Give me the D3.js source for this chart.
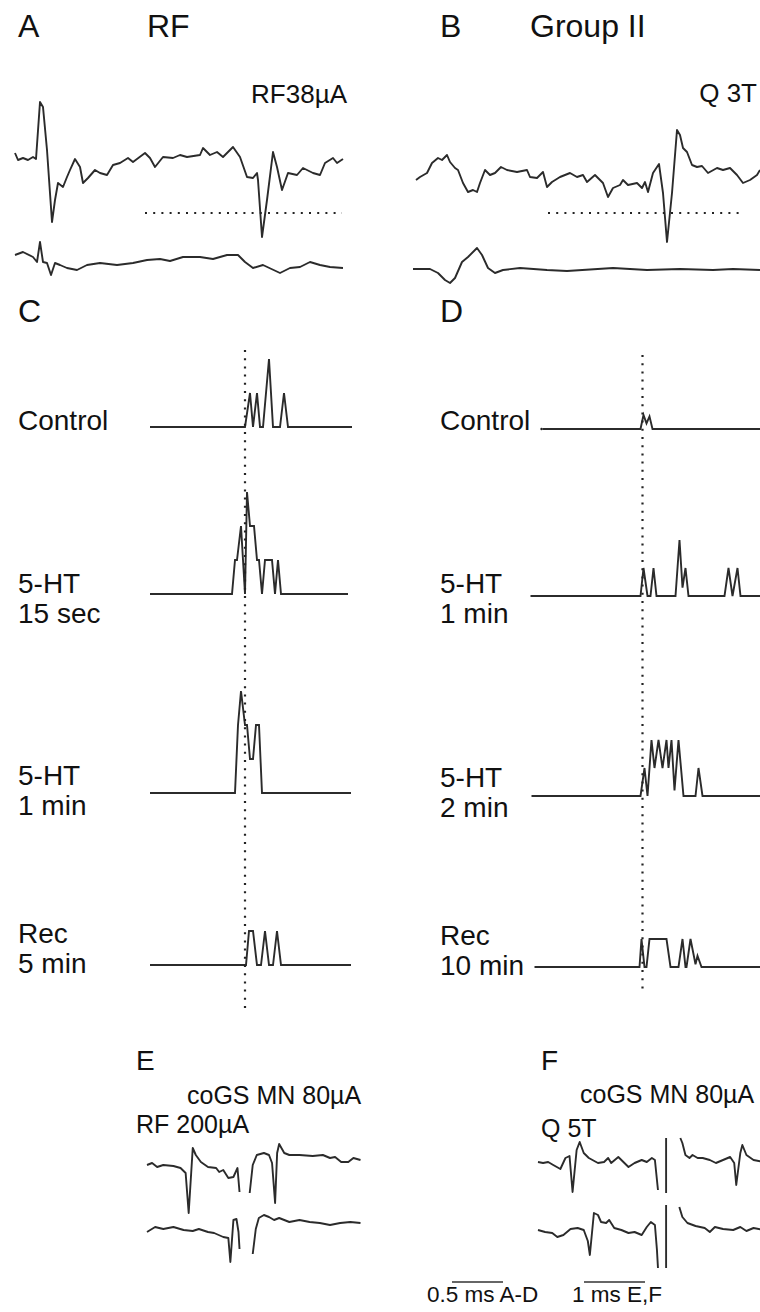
<!DOCTYPE html>
<html>
<head>
<meta charset="utf-8">
<script src="https://cdn.jsdelivr.net/npm/d3@7"></script>
<style>
  body { margin: 0; background: #fff; }
  svg { display: block; }
  text { font-family: "Liberation Sans", Arial, sans-serif; fill: #111; }
</style>
</head>
<body>
<svg></svg>
<script>
const WIDTH = 760;
const HEIGHT = 1312;

// ---- recordings: [sample, amplitude] (1 sample ~ 10 us in A-D) ----
const traceA1 = [[0,7],[3,0],[8,2],[13,0],[18,3],[21,1],[25,58],[28,53],[32,10],[37,-62],[40,-40],[43,-23],[48,-27],[52,-17],[55,-10],[60,1],[65,-7],[68,-23],[73,-18],[80,-10],[85,-13],[92,-15],[98,-5],[105,-3],[113,2],[118,-2],[130,7],[135,2],[140,-7],[148,3],[158,2],[165,5],[172,3],[185,5],[188,12],[195,5],[202,8],[208,3],[218,13],[225,3],[232,-17],[238,-18],[242,-13],[243,-20],[247,-77],[252,-40],[258,8],[262,-7],[267,-30],[273,-13],[282,-15],[288,-8],[298,-13],[305,-15],[310,-3],[318,2],[322,-3],[328,1]];
const traceA2 = [[0,8],[8,11],[18,6],[22,1],[25,21],[28,1],[32,0],[36,-12],[40,0],[45,-2],[52,-5],[62,-7],[72,-2],[85,0],[102,-2],[118,0],[132,3],[145,4],[155,2],[168,6],[185,6],[198,4],[212,8],[223,8],[230,1],[238,-5],[248,-2],[265,-10],[275,-5],[285,-4],[295,1],[305,-2],[315,-4],[328,-5]];
const traceB1 = [[0,-5],[4,-2],[11,2],[16,12],[22,17],[26,15],[31,20],[34,13],[39,7],[42,5],[47,-8],[52,-17],[57,-15],[61,-17],[64,-8],[69,5],[74,0],[79,2],[85,8],[91,5],[101,3],[111,5],[114,-2],[121,-3],[127,3],[131,-12],[136,-7],[144,-2],[154,2],[161,-2],[167,0],[171,-7],[179,0],[187,-8],[192,-22],[197,-13],[204,-10],[207,-5],[212,-10],[221,-8],[226,-13],[229,-7],[232,-17],[237,2],[243,11],[247,-18],[251,-67],[256,-18],[261,45],[264,40],[267,27],[271,23],[276,10],[281,8],[286,9],[292,2],[301,7],[307,5],[314,7],[321,0],[327,-8],[334,-5],[341,0],[344,5]];
const traceB2 = [[0,0],[17,0],[25,-4],[32,-11],[37,-14],[42,-9],[49,7],[55,12],[64,21],[69,14],[75,1],[82,-4],[90,-1],[107,1],[134,-1],[154,-2],[200,1],[234,-1],[267,0],[300,-1],[320,0],[347,-1]];
const latencyA = [130, 327];   // dotted window, samples
const latencyB = [132, 327];

// ---- PSTHs: [sample from stimulus, count] ----
const histCControl = [[-95,0],[0,0],[5,1],[8,0],[12,1],[15,0],[18,0],[24,2],[28,0],[35,0],[39,1],[43,0],[107,0]];
const histC15s = [[-95,0],[-13,0],[-10,1],[-8,1],[-4,2],[0,0],[2,3],[5,2],[9,2],[12,1],[14,1],[17,0],[20,1],[27,1],[30,0],[33,1],[36,0],[103,0]];
const histC1min = [[-95,0],[-10,0],[-7,2],[-4,3],[0,2],[2,2],[5,1],[8,1],[11,2],[14,2],[17,0],[106,0]];
const histCRec = [[-95,0],[1,0],[4,1],[8,1],[12,0],[16,0],[20,1],[24,0],[28,0],[32,1],[36,0],[106,0]];
const histDControl = [[-100,0],[-2,0],[1,0.5],[4,0.2],[7,0.45],[10,0],[118,0]];
const histD1min = [[-112,0],[-2,0],[1,1],[5,0],[8,0],[11,1],[14,0],[33,0],[37,2],[40,0.3],[43,1],[46,0],[82,0],[86,1],[90,0],[95,1],[98,0],[118,0]];
const histD2min = [[-111,0],[-2,0],[2,1],[5,0],[9,2],[12,1],[16,2],[20,1],[24,2],[26,1],[29,2],[32,0.2],[36,2],[41,0],[53,0],[56,1],[60,0],[118,0]];
const histDRec = [[-108,0],[-3,0],[-1,1],[2,0],[4,0],[7,1],[24,1],[28,0],[36,0],[40,1],[43,0],[44,0],[48,1],[53,0.1],[55,0.4],[59,0],[118,0]];
const labelsC = [['Control'], ['5-HT', '15 sec'], ['5-HT', '1 min'], ['Rec', '5 min']];
const labelsD = [['Control'], ['5-HT', '1 min'], ['5-HT', '2 min'], ['Rec', '10 min']];

// ---- E, F: [sample, amplitude] (1 sample ~ 16.7 us) ----
const traceE1a = [[0,1],[5,3],[10,-1],[16,1],[26,0],[33,-2],[38,-7],[41,-47],[45,18],[48,11],[53,4],[60,-1],[68,-2],[71,-6],[75,-4],[80,-12],[85,-11],[89,-2],[91,-26]];
const traceE1b = [[101,-27],[104,1],[108,11],[115,13],[120,11],[123,3],[126,-37],[128,13],[130,22],[135,13],[140,11],[150,11],[163,10],[173,11],[180,8],[185,9],[191,4],[198,4],[203,8],[210,6]];
const traceE2a = [[0,-3],[8,2],[16,0],[26,2],[36,-1],[45,-2],[51,0],[60,-3],[66,-4],[75,-8],[80,-9],[82,-33],[85,9],[88,10],[90,-3],[91,-20]];
const traceE2b = [[104,-25],[107,0],[110,11],[115,14],[120,12],[125,9],[130,11],[140,7],[150,9],[160,7],[170,6],[180,4],[190,6],[200,7],[210,6]];
const traceF1a = [[0,-1],[5,-2],[10,-1],[15,-4],[22,-8],[27,3],[31,5],[34,-31],[38,11],[41,19],[45,8],[50,3],[59,-2],[65,-1],[69,3],[72,-2],[79,4],[84,-1],[89,-6],[95,-2],[102,1],[107,-1],[112,3],[115,1],[118,-29]];
const traceF1b = [[140,23],[142,18],[145,6],[149,3],[152,6],[157,3],[162,3],[169,1],[175,-2],[182,1],[189,4],[193,-2],[195,-24],[199,8],[201,16],[205,6],[212,1],[222,-1]];
const traceF2a = [[0,1],[7,-1],[14,-2],[19,-6],[25,-4],[32,2],[39,3],[45,1],[49,-10],[51,-24],[55,18],[59,16],[62,9],[67,8],[70,11],[75,3],[82,1],[89,-2],[95,-1],[102,-4],[107,4],[111,9],[115,6],[117,-19],[118,-37]];
const traceF2b = [[139,24],[142,14],[147,8],[155,5],[164,3],[169,-1],[174,4],[182,2],[192,1],[199,4],[205,0],[212,3],[222,1]];
const artifactF1 = [[126,23],[126,-32]];
const artifactF2 = [[126,26],[126,-37]];

const svg = d3.select('svg').attr('width', WIDTH).attr('height', HEIGHT);
const INK = '#2b2b2b';

const addText = (x, y, str, size, anchor) =>
  svg.append('text').attr('x', x).attr('y', y)
    .attr('font-size', size).attr('text-anchor', anchor || 'start').text(str);

// draw a sampled trace; origin = pixel of sample 0 / amplitude 0
function drawTrace(data, ox, oy, pxPerSample) {
  const x = d3.scaleLinear().domain([0, 100]).range([ox, ox + 100 * pxPerSample]);
  const y = d3.scaleLinear().domain([0, 100]).range([oy, oy - 100]);
  const line = d3.line().x((d) => x(d[0])).y((d) => y(d[1]));
  svg.append('path').datum(data).attr('d', line)
    .attr('fill', 'none').attr('stroke', INK).attr('stroke-width', 1.9)
    .attr('stroke-linejoin', 'round');
  return x;
}

function dotted(x1, y1, x2, y2) {
  svg.append('line').attr('x1', x1).attr('y1', y1).attr('x2', x2).attr('y2', y2)
    .attr('stroke', '#222').attr('stroke-width', 2.2)
    .attr('stroke-dasharray', '2 6.2');
}

// ---- A / B ----
addText(18, 37, 'A', 32);
addText(147, 37, 'RF', 32);
addText(440, 37, 'B', 32);
addText(530, 37, 'Group II', 32);
addText(347, 103, 'RF38µA', 26, 'end');
addText(757, 102, 'Q 3T', 26, 'end');

const xA = drawTrace(traceA1, 15, 160, 1);
drawTrace(traceA2, 15, 263, 1);
dotted(xA(latencyA[0]), 213, xA(latencyA[1]), 213);
const xB = drawTrace(traceB1, 416, 175, 1);
drawTrace(traceB2, 413, 269, 1);
dotted(xB(latencyB[0]), 213, xB(latencyB[1]), 213);

// ---- C / D histograms ----
addText(18, 322, 'C', 32);
addText(440, 322, 'D', 32);

function drawHist(data, stimX, base, pxPerCount) {
  const x = d3.scaleLinear().domain([0, 100]).range([stimX, stimX + 100]);
  const y = d3.scaleLinear().domain([0, 3]).range([base, base - 3 * pxPerCount]);
  const line = d3.line().x((d) => x(d[0])).y((d) => y(d[1]));
  svg.append('path').datum(data).attr('d', line)
    .attr('fill', 'none').attr('stroke', INK).attr('stroke-width', 1.9)
    .attr('stroke-linejoin', 'miter');
}

const basesC = [427, 594, 793, 965];
const basesD = [429, 596, 796, 967];
[histCControl, histC15s, histC1min, histCRec].forEach((h, i) => drawHist(h, 245, basesC[i], 34));
[histDControl, histD1min, histD2min, histDRec].forEach((h, i) => drawHist(h, 642.5, basesD[i], 28));
dotted(245, 350, 245, 1008);
dotted(642.5, 355, 642.5, 990);
svg.append('circle').attr('cx', 541.5).attr('cy', 429).attr('r', 1.2).attr('fill', '#222');

// first-line text baselines for each row label
const labelTopC = [430, 593, 785, 943];
const labelTopD = [430, 593, 787, 945];
labelsC.forEach((lines, i) => lines.forEach((s, j) => addText(18, labelTopC[i] + j * 30, s, 28)));
labelsD.forEach((lines, i) => lines.forEach((s, j) => addText(440, labelTopD[i] + j * 30, s, 28)));

// ---- E / F ----
addText(136, 1070, 'E', 28);
addText(541, 1070, 'F', 28);
addText(187, 1104, 'coGS MN 80µA', 25);
addText(136, 1133, 'RF 200µA', 25);
addText(580, 1103, 'coGS MN 80µA', 25);
addText(541, 1137, 'Q 5T', 25);

const pxEF = 61 / 60;
drawTrace(traceE1a, 147, 1166, pxEF);
drawTrace(traceE1b, 147, 1166, pxEF);
drawTrace(traceE2a, 147, 1229, pxEF);
drawTrace(traceE2b, 147, 1229, pxEF);
drawTrace(traceF1a, 538, 1161, pxEF);
drawTrace(traceF1b, 538, 1161, pxEF);
drawTrace(artifactF1, 538, 1161, pxEF);
drawTrace(traceF2a, 538, 1231, pxEF);
drawTrace(traceF2b, 538, 1231, pxEF);
drawTrace(artifactF2, 538, 1231, pxEF);

// ---- scale bars ----
const msAD = d3.scaleLinear().domain([0, 0.5]).range([452, 503]);
const msEF = d3.scaleLinear().domain([0, 1]).range([584, 645]);
[[msAD, 0.5], [msEF, 1]].forEach(([s, v]) => {
  svg.append('line').attr('x1', s(0)).attr('x2', s(v)).attr('y1', 1282).attr('y2', 1282)
    .attr('stroke', '#333').attr('stroke-width', 1.5);
});
addText(427, 1302, '0.5 ms A-D', 22.5);
addText(572, 1302, '1 ms E,F', 22.5);
</script>
</body>
</html>
